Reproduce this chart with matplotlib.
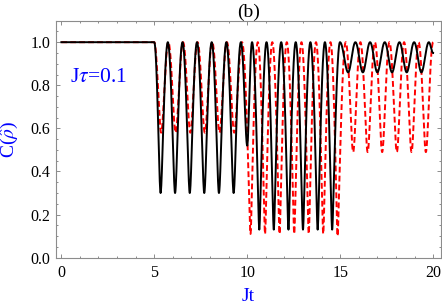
import numpy as np
import matplotlib

matplotlib.use("Agg")
import matplotlib.pyplot as plt
from matplotlib.ticker import MultipleLocator

plt.rcParams["font.family"] = ["Liberation Serif", "DejaVu Serif"]
plt.rcParams["mathtext.fontset"] = "stix"

# turning points: Jt and C, alternating max / min
black_t = [0.0, 5.00,
           5.34, 5.73, 6.12, 6.52, 6.91, 7.30, 7.69, 8.09, 8.48, 8.88, 9.27, 9.66,
           10.00, 10.26,
           10.65, 11.04, 11.43, 11.83, 12.22, 12.61, 13.00, 13.40, 13.79, 14.18, 14.57, 14.99,
           15.43, 15.82, 16.22, 16.61, 17.00, 17.40, 17.79, 18.19, 18.58, 18.98, 19.37, 19.77,
           20.00]
black_c = [1.0, 1.0,
           0.30, 1.0, 0.30, 1.0, 0.30, 1.0, 0.30, 1.0, 0.30, 1.0, 0.30, 1.0,
           0.52, 1.0,
           0.13, 1.0, 0.13, 1.0, 0.13, 1.0, 0.13, 1.0, 0.13, 1.0, 0.13, 1.0,
           0.86, 1.0, 0.86, 1.0, 0.86, 1.0, 0.86, 1.0, 0.86, 1.0, 0.86, 1.0,
           0.95]

red_t = [0.0, 5.00,
         5.37, 5.76, 6.15, 6.55, 6.94, 7.33, 7.72, 8.12, 8.51, 8.91, 9.30, 9.72,
         10.18, 10.57, 10.96, 11.35, 11.74, 12.13, 12.53, 12.92, 13.31, 13.70, 14.09, 14.48, 14.86, 15.30,
         15.70, 16.09, 16.48, 16.87, 17.26, 17.65, 18.05, 18.44, 18.84, 19.22, 19.61, 20.00]
red_c = [1.0, 1.0,
         0.58, 1.0, 0.58, 1.0, 0.58, 1.0, 0.58, 1.0, 0.58, 1.0, 0.58, 1.0,
         0.11, 1.0, 0.11, 1.0, 0.11, 1.0, 0.11, 1.0, 0.11, 1.0, 0.11, 1.0, 0.10, 1.0,
         0.49, 1.0, 0.49, 1.0, 0.49, 1.0, 0.49, 1.0, 0.49, 1.0, 0.49, 1.0]


def trace(ts, cs, n=40):
    """Join the turning points with half-oscillation arcs (round tops, sharp dips)."""
    out_t, out_c = [], []
    for t0, c0, t1, c1 in zip(ts[:-1], cs[:-1], ts[1:], cs[1:]):
        u = np.linspace(0.0, 1.0, n)
        hi, lo = max(c0, c1), min(c0, c1)
        w = u if c0 >= c1 else 1.0 - u
        ang = np.pi * w / 2
        out_t.append(t0 + (t1 - t0) * u)
        out_c.append(np.sqrt((hi * np.cos(ang)) ** 2 + (lo * np.sin(ang)) ** 2))
    return np.concatenate(out_t), np.concatenate(out_c)


fig = plt.figure(figsize=(4.42, 3.06), dpi=100)
ax = fig.add_axes([0.1267, 0.158, 0.870, 0.7745])

rt, rc = trace(red_t, red_c)
bt, bc = trace(black_t, black_c)
ax.plot(rt, rc, color="#ff0000", lw=1.4, dashes=(3.0, 1.6))
ax.plot(bt, bc, color="black", lw=1.4)

ax.set_xlim(-0.285, 20.4)
ax.set_ylim(0.0, 1.10)
ax.xaxis.set_major_locator(MultipleLocator(5))
ax.xaxis.set_minor_locator(MultipleLocator(1))
ax.yaxis.set_major_locator(MultipleLocator(0.2))
ax.yaxis.set_minor_locator(MultipleLocator(0.05))
ax.yaxis.set_major_formatter(matplotlib.ticker.FormatStrFormatter("%.1f"))

frame = "#8c8c8c"
for sp in ax.spines.values():
    sp.set_color(frame)
    sp.set_linewidth(0.8)
ax.tick_params(which="both", direction="in", top=True, right=True, color=frame,
               width=0.7, labelsize=11.5, labelcolor="black")
ax.tick_params(which="major", length=3.2)
ax.tick_params(which="minor", length=1.6)
ax.tick_params(axis="x", pad=5)
ax.tick_params(axis="y", pad=4)

ax.set_title("(b)", fontsize=14, pad=2)
ax.set_xlabel("Jt", color="blue", fontsize=14)
ax.xaxis.set_label_coords(0.5, -0.13)
ax.set_ylabel(r"C($\hat{\rho}$)", color="blue", fontsize=14)
ax.yaxis.set_label_coords(-0.092, 0.5)

ax.text(0.47, 0.817, r"J$\tau$=0.1", color="blue", fontsize=15.5, va="baseline", ha="left")

fig.savefig("out.png", dpi=100)
